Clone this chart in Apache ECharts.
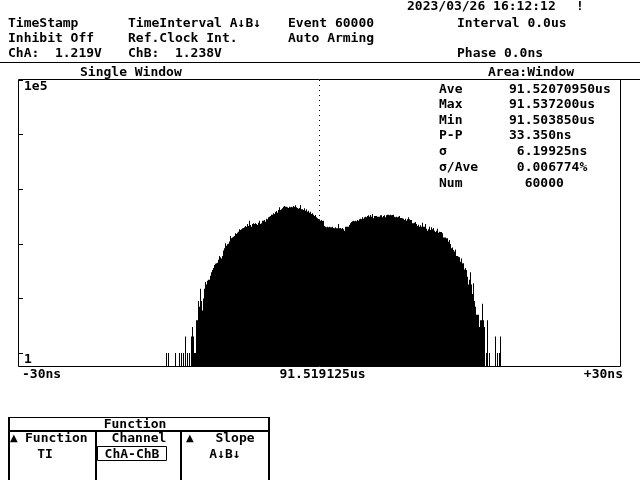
<!DOCTYPE html>
<html><head><meta charset="utf-8">
<script src="https://cdn.jsdelivr.net/npm/echarts@6/dist/echarts.min.js"></script>
<style>html,body{margin:0;padding:0;background:#fff}#c{width:640px;height:480px}</style>
</head><body><div id="c"></div>
<script>
// ---- data (time offset from 91.519125us, ns; counts per 0.1 ns bin) ----
const firstBinNs = -15.25;
const binWidthNs = 0.1;
const counts = [
  1,0,1,0,0,0,0,0,0,1,
  0,0,0,1,0,1,0,1,0,2,
  0,1,0,1,0,2,3,2,1,1,
  4,4,9,7,15,9,6,10,15,20,
  18,21,22,22,26,30,33,36,41,43,
  44,45,51,60,57,54,60,75,83,102,
  92,98,100,110,139,126,131,135,139,156,
  151,160,167,184,179,184,192,195,200,212,
  206,230,212,265,221,206,230,237,230,237,
  230,221,244,265,230,237,265,265,273,254,
  289,281,305,314,323,342,342,361,352,382,
  399,372,416,466,416,428,446,479,492,479,
  479,466,453,479,466,479,466,492,479,507,
  466,453,440,453,514,428,428,416,446,405,
  428,388,405,372,388,352,361,342,323,337,
  305,293,285,281,265,273,262,265,212,206,
  200,206,200,206,200,200,206,195,192,200,
  192,192,230,192,195,189,195,184,174,206,
  206,206,206,221,237,251,258,265,258,265,
  258,273,265,281,289,281,305,289,305,314,
  305,323,332,314,337,314,352,293,323,323,
  323,314,314,314,332,332,305,323,332,305,
  332,342,342,332,342,332,337,342,314,305,
  314,305,314,323,297,297,293,289,273,289,
  265,281,305,281,273,273,237,237,244,251,
  230,212,224,206,218,206,244,206,206,230,
  189,174,184,206,179,200,184,195,174,164,
  174,189,160,167,164,164,156,131,131,131,
  126,126,109,117,99,83,86,77,72,79,
  60,60,58,57,47,54,44,44,34,36,
  33,25,18,22,30,18,12,19,9,7,
  5,5,5,3,4,4,8,4,3,0,
  1,4,0,1,0,0,0,0,0,2,
  0,1,0,1,2
];
const xMinNs = -30, xMaxNs = 30, xTickStepNs = 30;
const xTickLabels = ['-30ns', '91.519125us', '+30ns'];
const yDecades = [0, 1, 2, 3, 4, 5];
const yTickLabels = ['1', '1e5'];          // labels for decade 0 and decade 5
const yBelowOneDecades = 0.238;            // axis extends a little below count = 1

const statsLabels = ['Ave', 'Max', 'Min', 'P-P', 'σ', 'σ/Ave', 'Num'];
const statsValues = ['91.52070950us', '91.537200us', '91.503850us', '33.350ns', ' 6.19925ns', ' 0.006774%', '  60000'];

// ---- build ----
const FONT = 'bold 13px "DejaVu Sans Mono"';
const seriesData = counts.map((c, i) => [firstBinNs + i * binWidthNs, c > 0 ? Math.log10(c) + yBelowOneDecades : null]);

function txt(text, x, y, align) {
  return { type: 'text', silent: true, style: { text, x, y, font: FONT, fill: '#000', align: align || 'left', verticalAlign: 'middle' } };
}
function hline(x1, x2, y, w) {
  return { type: 'line', silent: true, shape: { x1, y1: y, x2, y2: y }, style: { stroke: '#000', lineWidth: w || 1 } };
}
function vline(x, y1, y2, w) {
  return { type: 'line', silent: true, shape: { x1: x, y1, x2: x, y2 }, style: { stroke: '#000', lineWidth: w || 1 } };
}

const graphics = [
  txt('2023/03/26 16:12:12', 407, 6.5), txt('!', 576, 6.5),
  txt('TimeStamp', 8, 24), txt('TimeInterval A↓B↓', 128, 24), txt('Event 60000', 288, 24), txt('Interval 0.0us', 457, 24),
  txt('Inhibit Off', 8, 39), txt('Ref.Clock Int.', 128, 39), txt('Auto Arming', 288, 39),
  txt('ChA:  1.219V', 8, 54), txt('ChB:  1.238V', 128, 54), txt('Phase 0.0ns', 457, 54),
  hline(0, 640, 62.5),
  txt('Single Window', 80, 73), txt('Area:Window', 488, 73),
  { type: 'rect', silent: true, shape: { x: 18.5, y: 79.5, width: 602, height: 287 }, style: { fill: null, stroke: '#000', lineWidth: 1 } },
  hline(620, 640, 79.5),
  // bottom function panel
  hline(8, 270, 417.5),
  vline(9, 417, 480, 2), vline(269, 417, 480, 2),
  hline(8, 270, 431, 2),
  vline(96, 431, 480, 2), vline(181, 431, 480, 2),
  txt('Function', 135, 425, 'center'),
  { type: 'text', silent: true, style: { text: '▲', x: 10, y: 438, font: 'bold 10px "DejaVu Sans"', fill: '#000', verticalAlign: 'middle' } },
  txt('Function', 25, 439), txt('TI', 45, 455, 'center'),
  txt('Channel', 139, 439, 'center'), txt('ChA-ChB', 132, 454.5, 'center'),
  { type: 'rect', silent: true, shape: { x: 97.5, y: 446.5, width: 69, height: 14 }, style: { fill: null, stroke: '#000', lineWidth: 1 } },
  { type: 'text', silent: true, style: { text: '▲', x: 186, y: 438, font: 'bold 10px "DejaVu Sans"', fill: '#000', verticalAlign: 'middle' } },
  txt('Slope', 235, 439, 'center'), txt('A↓B↓', 225, 455, 'center')
];
const statYs = [89.5, 105, 120.5, 136, 152, 168, 184];
statsLabels.forEach((l, i) => { graphics.push(txt(l, 439, statYs[i])); graphics.push(txt(statsValues[i], 509, statYs[i])); });

const chart = echarts.init(document.getElementById('c'), null, { renderer: 'canvas' });
chart.setOption({
  animation: false,
  backgroundColor: '#fff',
  grid: [
    { left: 19, top: 80, width: 600, height: 286 },
    { left: 22, top: 80, width: 601, height: 286 }
  ],
  xAxis: [
    { type: 'value', gridIndex: 0, min: xMinNs, max: xMaxNs, interval: xTickStepNs,
      axisLine: { show: false, onZero: false }, axisTick: { show: false }, axisLabel: { show: false },
      splitLine: { show: true, showMinLine: false, showMaxLine: false, lineStyle: { color: '#000', width: 1, type: [1, 4] } } },
    { type: 'value', gridIndex: 1, min: xMinNs, max: xMaxNs, interval: xTickStepNs,
      axisLine: { show: false, onZero: false }, axisTick: { show: false }, splitLine: { show: false },
      axisLabel: { show: true, margin: 2, color: '#000', fontFamily: 'DejaVu Sans Mono', fontWeight: 'bold', fontSize: 13,
        alignMinLabel: 'left', alignMaxLabel: 'right',
        formatter: v => xTickLabels[Math.round((v - xMinNs) / xTickStepNs)] } }
  ],
  yAxis: [
    { type: 'value', gridIndex: 0, position: 'left', min: 0, max: 5 + yBelowOneDecades,
      axisLine: { show: false, onZero: false }, splitLine: { show: false },
      axisTick: { show: true, inside: true, length: 4, lineStyle: { color: '#000' }, customValues: yDecades.map(d => d + yBelowOneDecades) },
      axisLabel: { show: true, inside: true, margin: 5, verticalAlign: 'top', color: '#000', fontFamily: 'DejaVu Sans Mono', fontWeight: 'bold', fontSize: 13,
        customValues: [yBelowOneDecades, 5 + yBelowOneDecades],
        formatter: v => (Math.round(v - yBelowOneDecades) === 0 ? yTickLabels[0] : yTickLabels[1]) } },
    { type: 'value', gridIndex: 1, show: false }
  ],
  series: [{
    type: 'bar', xAxisIndex: 0, yAxisIndex: 0, data: seriesData, barWidth: 1,
    itemStyle: { color: '#000' }, silent: true
  }],
  graphic: graphics
});
</script></body></html>
